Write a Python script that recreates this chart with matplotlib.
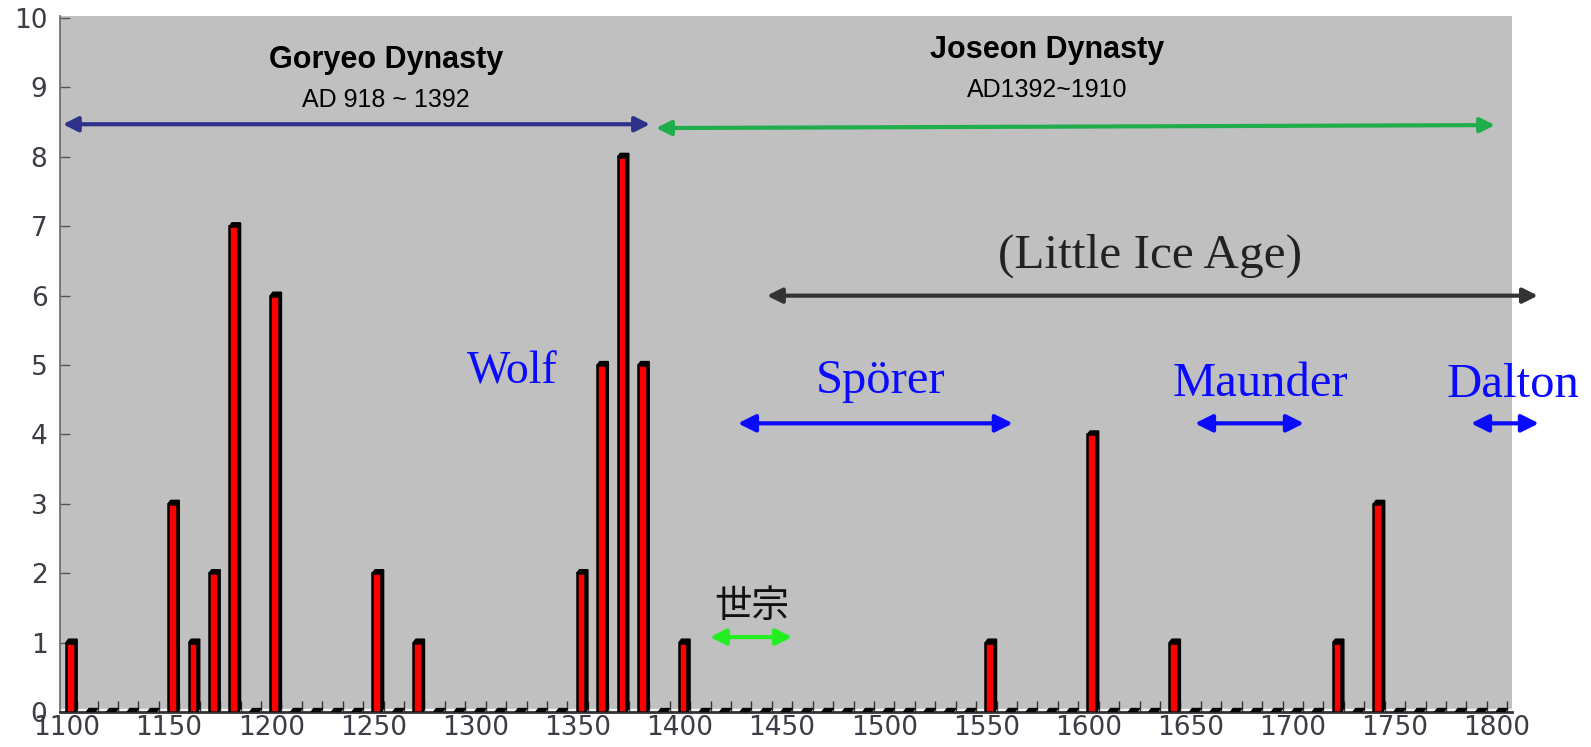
import matplotlib
matplotlib.use("Agg")
import matplotlib.pyplot as plt
import numpy as np

# Anzahl der Ereignisse pro Jahrzehnt (1100 .. 1800)
decades = list(range(1100, 1810, 10))
counts = [1, 0, 0, 0, 0,   3, 1, 2, 7, 0,   6, 0, 0, 0, 0,   2, 0, 1, 0, 0,
          0, 0, 0, 0, 0,   2, 5, 8, 5, 0,   1, 0, 0, 0, 0,   0, 0, 0, 0, 0,
          0, 0, 0, 0, 0,   1, 0, 0, 0, 0,   4, 0, 0, 0, 1,   0, 0, 0, 0, 0,
          0, 0, 1, 0, 3,   0, 0, 0, 0, 0,   0]
x_labels = list(range(1100, 1850, 50))
y_ticks = list(range(0, 11))

W, H = 1591, 747
fig = plt.figure(figsize=(W / 100, H / 100), dpi=100)
ax = fig.add_axes([60 / W, (H - 712) / H, (1512 - 60) / W, (712 - 16) / H])
ax.set_facecolor("#c0c0c0")
ax.set_xlim(1096.6, 1807.3)
ax.set_ylim(0, 10.03)

# Boden-Streifen
ax.axhspan(0, 0.04, color="#f2f2f2", zorder=1)

# 3D-Balken
bw = 4.2     # Breite der Vorderseite (Jahre)
dx = 1.3     # Tiefe (Jahre)
dy = 0.05    # Tiefe (y)
for d, v in zip(decades, counts):
    x0 = d - 0.5
    x1 = x0 + bw
    if v > 0:
        ax.fill([x1, x1 + dx, x1 + dx, x1], [0, dy, v + dy, v],
                color="black", zorder=3)
        ax.bar(x0, v, width=bw, align="edge", color="#ff0000",
               edgecolor="black", linewidth=1.8, zorder=4)
    ax.fill([x0, x0 + dx, x1 + dx, x1], [v, v + dy, v + dy, v],
            color="black", zorder=5)

# Achsen
for s in ["top", "right"]:
    ax.spines[s].set_visible(False)
ax.spines["left"].set_color("#666666")
ax.spines["left"].set_linewidth(1.2)
ax.spines["bottom"].set_color("#333333")
ax.spines["bottom"].set_linewidth(2)

tick_col = "#3c3c46"
ax.set_yticks(y_ticks)
ax.set_yticklabels([str(t) for t in y_ticks])
ax.set_xticks(x_labels)
ax.set_xticklabels([str(t) for t in x_labels])
ax.set_xticks([d + 5 for d in decades], minor=True)
ax.tick_params(axis="y", direction="in", length=7, width=1, color="#555555",
               labelsize=19, labelcolor=tick_col, pad=9)
ax.tick_params(axis="x", which="major", length=0, labelsize=19,
               labelcolor=tick_col, pad=2.5)
ax.tick_params(axis="x", which="minor", direction="in", length=8, width=1,
               color="#333333")


def arrow(x0, y0, x1, y1, col, lw=3.0, ms=22):
    ax.annotate("", xy=(x1, y1), xytext=(x0, y0),
                arrowprops=dict(arrowstyle="<|-|>", color=col, lw=lw,
                                mutation_scale=ms, shrinkA=0, shrinkB=0),
                annotation_clip=False, zorder=6)


sans = ["Liberation Sans", "DejaVu Sans"]
serif = ["Liberation Serif", "DejaVu Serif"]

# Dynastien
ax.text(1256, 9.28, "Goryeo Dynasty", ha="center", va="baseline",
        fontsize=22, fontweight="bold", family=sans)
ax.text(1256, 8.72, "AD 918 ~ 1392", ha="center", va="baseline",
        fontsize=18, family=sans)
arrow(1098.0, 8.47, 1385.4, 8.47, "#2e3188")

ax.text(1580, 9.43, "Joseon Dynasty", ha="center", va="baseline",
        fontsize=22, fontweight="bold", family=sans)
ax.text(1580, 8.86, "AD1392~1910", ha="center", va="baseline",
        fontsize=18, family=sans)
arrow(1388.3, 8.415, 1799.0, 8.458, "#1fae4b")

# Kleine Eiszeit
ax.text(1630, 6.40, "(Little Ice Age)", ha="center", va="baseline",
        fontsize=35.5, family=serif, color="#222222")
arrow(1442.6, 6.0, 1820.0, 6.0, "#333333")

# Sonnenminima
blue = "#0a0aff"
ax.text(1318, 4.73, "Wolf", ha="center", va="baseline", fontsize=33,
        family=serif, color=blue)
ax.text(1498, 4.60, "Spörer", ha="center", va="baseline", fontsize=35,
        family=serif, color=blue)
ax.text(1684, 4.55, "Maunder", ha="center", va="baseline", fontsize=35,
        family=serif, color=blue)
ax.text(1808, 4.54, "Dalton", ha="center", va="baseline", fontsize=35,
        family=serif, color=blue, clip_on=False)
arrow(1428.4, 4.16, 1563.0, 4.16, blue, ms=26)
arrow(1652.1, 4.16, 1705.5, 4.16, blue, ms=26)
arrow(1787.2, 4.16, 1820.5, 4.16, blue, ms=26)

# Sejong
ax.text(1435, 1.52, "世宗", ha="center", va="center", fontsize=27,
        family=["Noto Sans CJK KR", "DejaVu Sans"], color="#111111")
arrow(1414.7, 1.08, 1454.9, 1.08, "#22ee22", ms=24)

fig.savefig("out.png", dpi=100)
